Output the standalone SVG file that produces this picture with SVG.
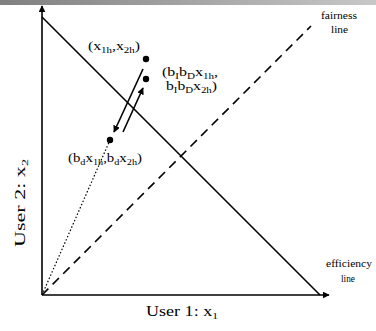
<svg xmlns="http://www.w3.org/2000/svg" width="376" height="331" viewBox="0 0 376 331">
<defs>
<linearGradient id="bar" x1="0" y1="0" x2="1" y2="0">
<stop offset="0" stop-color="#808080"/>
<stop offset="1" stop-color="#c8c8c8"/>
</linearGradient>
<marker id="ah" viewBox="0 0 10 10" refX="9" refY="5" markerWidth="7" markerHeight="7" markerUnits="userSpaceOnUse" orient="auto">
<path d="M0,0 L10,5 L0,10 z" fill="#000"/>
</marker>
</defs>
<style>
text{font-family:"Liberation Serif","Times New Roman",serif;fill:#000}
.lbl{font-size:13px}
.sm{font-size:10.5px}
.ax{font-size:14px}
.sub{font-size:9px}
.ln{stroke:#000;fill:none}
</style>
<rect x="0" y="0" width="376" height="5" fill="url(#bar)"/>
<g id="connectors">
<line id="y-axis" class="ln" x1="42" y1="295" x2="42" y2="6" stroke-width="1.6" marker-end="url(#ah)"/>
<line id="x-axis" class="ln" x1="42" y1="295" x2="329" y2="295" stroke-width="1.6" marker-end="url(#ah)"/>
<line id="efficiency" class="ln" x1="42" y1="17" x2="320" y2="295" stroke-width="1.6"/>
<line id="fairness" class="ln" x1="42" y1="295" x2="311" y2="26" stroke-width="1.6" stroke-dasharray="9,6"/>
<line id="dotted" class="ln" x1="42" y1="295" x2="110" y2="140" stroke-width="1.2" stroke-dasharray="1.5,2"/>
<line id="down" class="ln" x1="143" y1="69" x2="114" y2="132" stroke-width="1.6" marker-end="url(#ah)"/>
<line id="up" class="ln" x1="123" y1="132" x2="143" y2="88" stroke-width="1.6" marker-end="url(#ah)"/>
</g>
<g id="p-high">
<circle cx="146" cy="59" r="3.2" fill="#000"/>
<text class="lbl" x="88" y="50" textLength="52" lengthAdjust="spacingAndGlyphs">(x<tspan class="sub" dy="3">1h</tspan><tspan dy="-3">,x</tspan><tspan class="sub" dy="3">2h</tspan><tspan dy="-3">)</tspan></text>
</g>
<g id="p-incr">
<circle cx="146" cy="79" r="3.2" fill="#000"/>
<text class="lbl" x="162" y="76" textLength="56" lengthAdjust="spacingAndGlyphs">(b<tspan class="sub" dy="3">I</tspan><tspan dy="-3">b</tspan><tspan class="sub" dy="3">D</tspan><tspan dy="-3">x</tspan><tspan class="sub" dy="3">1h</tspan><tspan dy="-3">,</tspan></text>
<text class="lbl" x="166" y="90" textLength="51" lengthAdjust="spacingAndGlyphs">b<tspan class="sub" dy="3">I</tspan><tspan dy="-3">b</tspan><tspan class="sub" dy="3">D</tspan><tspan dy="-3">x</tspan><tspan class="sub" dy="3">2h</tspan><tspan dy="-3">)</tspan></text>
</g>
<g id="p-decr">
<circle cx="110" cy="140" r="3.2" fill="#000"/>
<text class="lbl" x="68" y="162" textLength="74" lengthAdjust="spacingAndGlyphs">(b<tspan class="sub" dy="3">d</tspan><tspan dy="-3">x</tspan><tspan class="sub" dy="3">1h</tspan><tspan dy="-3">,b</tspan><tspan class="sub" dy="3">d</tspan><tspan dy="-3">x</tspan><tspan class="sub" dy="3">2h</tspan><tspan dy="-3">)</tspan></text>
</g>
<g id="fair-label">
<text class="sm" x="321" y="19" textLength="36" lengthAdjust="spacingAndGlyphs">fairness</text>
<text class="sm" x="331" y="33" textLength="17" lengthAdjust="spacingAndGlyphs">line</text>
</g>
<g id="eff-label">
<text class="sm" x="326" y="267" textLength="46" lengthAdjust="spacingAndGlyphs">efficiency</text>
<text class="sm" x="341" y="282" textLength="14" lengthAdjust="spacingAndGlyphs">line</text>
</g>
<g id="x-label">
<text class="ax" x="146" y="316" textLength="72" lengthAdjust="spacingAndGlyphs">User 1: x<tspan class="sub" dy="3">1</tspan></text>
</g>
<g id="y-label">
<text class="ax" transform="translate(25,247) rotate(-90)" textLength="88" lengthAdjust="spacingAndGlyphs">User 2: x<tspan class="sub" dy="3">2</tspan></text>
</g>
</svg>
